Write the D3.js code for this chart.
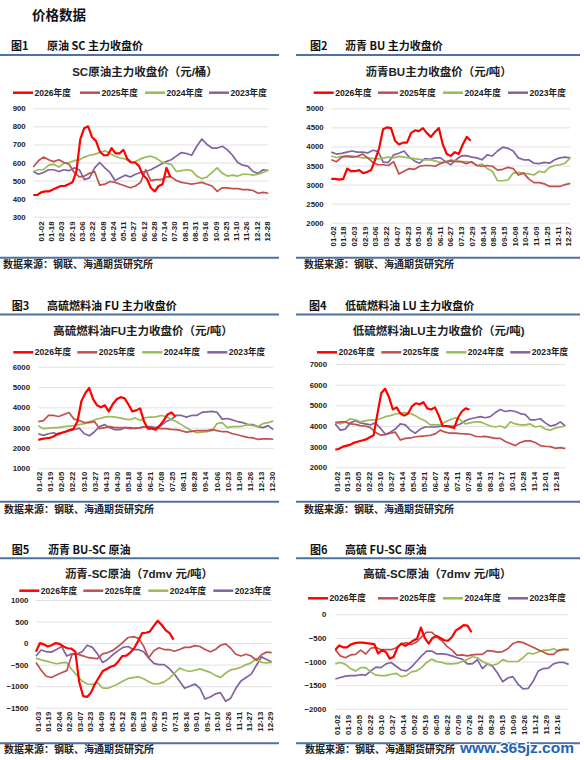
<!DOCTYPE html>
<html><head><meta charset="utf-8">
<script src="https://cdn.jsdelivr.net/npm/d3@7"></script>
<style>
body{margin:0;background:#fff}
svg{display:block}
.hd{font-family:"Noto Sans CJK SC",sans-serif;font-weight:700;font-size:11px;fill:#111}
.ttl{font-family:"Liberation Sans","Noto Sans CJK SC",sans-serif;font-weight:700;font-size:11.5px;fill:#222}
.lg{font-family:"Liberation Sans","Noto Sans CJK SC",sans-serif;font-weight:700;font-size:8.6px;fill:#222}
.tk text{font-family:"Liberation Sans",sans-serif;font-weight:700;font-size:7.8px;fill:#222}
.src{font-family:"Noto Sans CJK SC",sans-serif;font-weight:700;font-size:10px;fill:#222}
</style>
</head><body><svg id="c" width="584" height="760"></svg>
<script>
const seriesNames = ["2026年度","2025年度","2024年度","2023年度"];
const seriesColors = ["#FF0000","#C0504D","#9BBB59","#8064A2"];
const RED_STEP = 1/60;

// ---- Panel 1: SC crude ----
const scTicks = ["01-02","01-18","02-03","02-19","03-06","03-22","04-08","04-24","05-11","05-27","06-12","06-28","07-14","07-30","08-15","08-31","09-16","10-09","10-25","11-10","11-26","12-12","12-28"];
const sc2026 = [420,420,435,440,440,450,460,470,470,480,490,550,730,790,800,740,720,660,640,640,680,650,650,670,620,600,600,580,530,510,460,440,470,480,570,520];
const sc2025 = [575,610,630,615,605,615,600,590,545,520,525,540,550,475,480,495,490,480,470,460,470,490,560,500,505,505,520,520,500,490,485,480,485,490,480,470,440,460,460,455,455,450,450,445,430,435,430];
const sc2024 = [550,560,560,585,590,575,595,600,610,615,630,640,645,655,665,650,635,625,620,600,605,620,630,635,625,605,595,590,550,555,560,555,525,510,520,545,570,540,525,530,525,535,535,530,535,545,560];
const sc2023 = [550,535,545,560,560,550,560,555,570,560,505,515,570,600,570,545,500,515,530,520,535,545,550,560,575,590,605,615,635,655,650,640,690,730,700,680,680,690,670,640,600,585,580,550,540,560,555];

// ---- Panel 2: BU asphalt ----
const buTicks = ["01-02","01-18","02-03","02-19","03-06","03-22","04-07","04-23","05-10","05-26","06-11","06-27","07-13","07-29","08-14","08-30","09-15","10-08","10-24","11-09","11-25","12-11","12-27"];
const bu2026 = [3150,3150,3130,3150,3420,3350,3350,3380,3300,3330,3380,3650,3950,4450,4500,4480,4150,4050,4100,4100,4350,4420,4400,4480,4350,4250,4380,4480,4050,3800,3750,3850,3800,4050,4250,4150];
const bu2025 = [3650,3600,3720,3740,3720,3740,3800,3700,3580,3520,3520,3500,3600,3280,3350,3420,3400,3480,3500,3500,3480,3550,3600,3620,3600,3600,3550,3600,3500,3480,3500,3480,3380,3400,3450,3420,3250,3300,3150,3050,3050,3020,2950,2950,2950,3000,3030];
const bu2024 = [3750,3710,3740,3750,3750,3730,3700,3700,3680,3670,3700,3720,3700,3740,3720,3700,3680,3660,3650,3650,3620,3580,3580,3650,3620,3600,3600,3580,3500,3540,3420,3350,3100,3100,3120,3300,3320,3300,3280,3250,3350,3320,3450,3500,3520,3560,3700];
const bu2023 = [3850,3800,3820,3850,3880,3850,3850,3830,3900,3870,3580,3580,3780,3820,3880,3720,3620,3560,3680,3660,3700,3700,3600,3520,3650,3750,3760,3720,3700,3650,3780,3750,3880,3980,3950,3880,3700,3650,3650,3560,3550,3580,3560,3650,3700,3720,3700];

// ---- Panel 3: FU high sulphur fuel oil ----
const fuTicks = ["01-02","01-19","02-05","02-22","03-10","03-27","04-13","04-30","05-18","06-04","06-21","07-08","07-25","08-11","08-28","09-14","10-06","10-23","11-09","11-26","12-13","12-30"];
const fu2026 = [2400,2450,2480,2500,2580,2700,2750,2800,2880,2950,3300,4300,4700,4950,4400,4100,4000,4100,3800,4150,4400,4500,4450,4150,3800,3850,3950,3300,2950,2950,2900,3100,3350,3650,3750,3550];
const fu2025 = [3300,3350,3600,3600,3550,3650,3750,3420,3350,3250,3250,3300,2950,3000,3050,3000,3000,3000,2950,2980,3000,3050,3000,2980,2950,2950,2920,2900,2850,2780,2820,2850,2850,2850,2900,2850,2800,2800,2700,2650,2580,2520,2500,2420,2450,2450,2430];
const fu2024 = [3100,2950,2980,3000,3000,3050,3080,3100,3150,3200,3300,3380,3450,3520,3550,3520,3480,3420,3400,3480,3350,3500,3520,3530,3600,3550,3400,3300,3150,3000,2850,2750,2780,2800,2850,3200,3250,3000,3050,3050,3080,3150,3100,3050,3200,3250,3330];
const fu2023 = [2700,2620,2700,2750,2650,2800,2850,2900,2980,2700,2600,2800,3050,3150,3000,2900,2900,3000,3000,2950,3000,3050,3050,3000,3100,3300,3400,3600,3600,3520,3600,3600,3750,3780,3800,3750,3420,3450,3380,3300,3250,3150,3150,3050,3000,3100,2900];

// ---- Panel 4: LU low sulphur fuel oil ----
const luTicks = ["01-02","01-19","02-05","02-22","03-10","03-27","04-14","05-04","05-21","06-07","06-24","07-11","07-28","08-14","08-31","09-17","10-11","10-28","11-14","12-01","12-18"];
const lu2026 = [2850,2900,3000,3050,3100,3200,3250,3300,3350,3450,3550,4600,5600,5800,5400,4800,4900,4600,4500,4600,4950,5100,5050,5150,4850,4800,4900,4500,4000,4000,3950,3900,4400,4700,4850,4800];
const lu2025 = [4150,4200,4200,4100,4080,4020,4000,3920,3700,3560,3580,3650,3700,3320,3400,3420,3480,3500,3520,3550,3620,3800,3700,3650,3650,3630,3620,3600,3500,3480,3500,3450,3400,3400,3250,3150,3050,3200,3280,3280,3200,3050,3020,3000,2920,2950,2900];
const lu2024 = [4200,4100,4200,4350,4300,4200,4250,4300,4300,4350,4450,4500,4580,4620,4650,4600,4500,4350,4250,4050,4050,4050,4200,4300,4400,4300,4100,4150,4200,4200,4100,4000,3950,4000,3900,4200,4100,4050,4050,4100,3950,4000,3850,3800,3900,3950,4000];
const lu2023 = [4100,3800,3850,4150,4250,4150,4100,4050,4150,3900,3600,3700,3850,4100,4050,3800,3650,3850,3950,3950,3950,3980,4000,4000,4000,4100,4250,4350,4400,4450,4400,4450,4650,4800,4700,4750,4700,4600,4550,4300,4300,4350,4150,4000,4050,4200,4000];

// ---- Panel 5: BU - SC spread ----
const bsTicks = ["01-03","01-19","02-04","02-20","03-07","03-23","04-09","04-25","05-12","05-28","06-13","06-29","07-15","07-31","08-16","09-01","09-17","10-10","10-26","11-11","11-27","12-13","12-29"];
const bs2026 = [-200,0,-30,-80,-50,0,-20,-80,-120,-130,-200,-900,-1230,-1250,-1150,-950,-800,-650,-600,-550,-520,-420,-300,-290,-220,-120,50,230,240,270,400,520,420,300,230,80];
const bs2025 = [-450,-630,-770,-800,-740,-690,-640,-270,-250,-290,-330,-350,-360,-250,-220,-170,-80,20,130,150,110,-70,-340,-180,-110,-150,-150,-190,-150,-100,-100,-60,-80,-150,-200,-150,-50,-20,-120,-260,-300,-260,-300,-400,-270,-210,-220];
const bs2024 = [-350,-390,-420,-450,-480,-460,-450,-620,-750,-880,-950,-960,-920,-1040,-1050,-1000,-950,-880,-820,-800,-780,-830,-900,-950,-940,-900,-820,-700,-580,-630,-660,-630,-600,-640,-680,-750,-800,-700,-620,-600,-560,-500,-460,-360,-450,-460,-450];
const bs2023 = [-300,-160,-200,-210,-150,-80,-300,-250,-250,-200,-50,-100,-250,-450,-380,-270,-180,-100,-80,-150,-150,-200,-350,-470,-500,-500,-590,-720,-880,-1050,-1000,-950,-1050,-1300,-1250,-1180,-1150,-1350,-1280,-1050,-880,-800,-720,-520,-320,-380,-440];

// ---- Panel 6: FU - SC spread ----
const fsTicks = ["01-02","01-19","02-05","02-22","03-10","03-27","04-14","05-02","05-19","06-05","06-22","07-09","07-26","08-12","08-29","09-15","10-09","10-26","11-12","11-29","12-16"];
const fs2026 = [-750,-660,-700,-700,-640,-610,-600,-600,-610,-620,-630,-830,-760,-800,-940,-900,-700,-620,-670,-620,-560,-520,-280,-500,-620,-500,-460,-500,-550,-560,-480,-340,-290,-230,-240,-380];
const fs2025 = [-750,-880,-920,-860,-850,-760,-840,-720,-700,-750,-750,-750,-710,-630,-600,-640,-590,-480,-380,-380,-480,-560,-680,-760,-870,-860,-880,-860,-850,-850,-770,-780,-800,-790,-730,-620,-580,-600,-650,-700,-750,-800,-850,-850,-760,-740,-750];
const fs2024 = [-1050,-1020,-1060,-1150,-1200,-1130,-1130,-1220,-1290,-1300,-1300,-1270,-1250,-1320,-1300,-1220,-1200,-1130,-1020,-950,-1000,-1020,-1050,-1050,-1040,-1000,-960,-900,-920,-1000,-1050,-1080,-1050,-960,-1000,-1000,-1000,-920,-820,-840,-800,-760,-760,-730,-780,-750,-750];
const fs2023 = [-1370,-1340,-1310,-1300,-1300,-1280,-1290,-1200,-1120,-1130,-1050,-1020,-1100,-1180,-1200,-1120,-1000,-880,-780,-780,-840,-840,-850,-880,-920,-950,-1050,-1050,-960,-1150,-1050,-1100,-1250,-1430,-1350,-1320,-1480,-1580,-1570,-1420,-1200,-1150,-1140,-1050,-1020,-1020,-1060];

const svg = d3.select("#c");
svg.append("rect").attr("width",584).attr("height",760).attr("fill","#fff");

svg.append("text").attr("x",32).attr("y",20)
  .style("font-family","'Noto Sans CJK SC',sans-serif").style("font-weight",700).style("font-size","13.5px").attr("fill","#111")
  .text("价格数据");

const panels = [
 {fig:"图1",name:"原油 SC 主力收盘价",title:"SC原油主力收盘价（元/桶）",ticks:scTicks,data:[sc2026,sc2025,sc2024,sc2023],yDom:[300,900],yStep:100,
  figX:11,nameX:47,headY:50,lineY:55,lx0:0,lx1:279,titleX:145,titleY:75.5,legY:92.7,legX:[13,80,145,209],
  l:33.3,r:268.3,yt:108.3,yb:216.7,yLabX:25.7,tx0:40.7,tx1:266.7,xLabY:221.5,botY:257.7,srcX:3,srcY:268},
 {fig:"图2",name:"沥青 BU 主力收盘价",title:"沥青BU主力收盘价（元/吨）",ticks:buTicks,data:[bu2026,bu2025,bu2024,bu2023],yDom:[2000,5000],yStep:500,
  figX:310,nameX:345,headY:50,lineY:55,lx0:296,lx1:580,titleX:438.7,titleY:75.5,legY:92.7,legX:[313.7,378,443,508],
  l:331.3,r:570.3,yt:108.3,yb:222.7,yLabX:323.7,tx0:332.3,tx1:568,xLabY:226.5,botY:257.7,srcX:304,srcY:268},
 {fig:"图3",name:"高硫燃料油 FU 主力收盘价",title:"高硫燃料油FU主力收盘价（元/吨）",ticks:fuTicks,data:[fu2026,fu2025,fu2024,fu2023],yDom:[1000,6000],yStep:1000,
  figX:11.7,nameX:47,headY:310,lineY:314.5,lx0:0,lx1:279,titleX:143,titleY:335,legY:352.3,legX:[13.3,77.3,142.3,207.3],
  l:38.3,r:273.3,yt:366.7,yb:468.3,yLabX:30,tx0:39,tx1:271.7,xLabY:471.7,botY:501.7,srcX:4,srcY:512.5},
 {fig:"图4",name:"低硫燃料油 LU 主力收盘价",title:"低硫燃料油LU主力收盘价（元/吨)",ticks:luTicks,data:[lu2026,lu2025,lu2024,lu2023],yDom:[2000,7000],yStep:1000,
  figX:309,nameX:345,headY:310,lineY:314.5,lx0:296,lx1:580,titleX:438.7,titleY:335,legY:352.3,legX:[317,381.3,446.3,510.3],
  l:335.3,r:565.3,yt:364,yb:467.3,yLabX:327,tx0:336.3,tx1:555.3,xLabY:471.7,botY:501.7,srcX:304,srcY:512.5},
 {fig:"图5",name:"沥青 BU-SC 原油",title:"沥青-SC原油（7dmv 元/吨）",ticks:bsTicks,data:[bs2026,bs2025,bs2024,bs2023],yDom:[-1500,1000],yStep:500,
  figX:11.7,nameX:48,headY:554,lineY:558.3,lx0:0,lx1:279,titleX:139,titleY:578,legY:590.7,legX:[19.3,83.3,148.3,213.3],
  l:36,r:271.7,yt:600,yb:707.7,yLabX:28.3,tx0:37.3,tx1:270,xLabY:711.7,botY:743.3,srcX:4,srcY:753},
 {fig:"图6",name:"高硫 FU-SC 原油",title:"高硫-SC原油（7dmv 元/吨）",ticks:fsTicks,data:[fs2026,fs2025,fs2024,fs2023],yDom:[-2000,0],yStep:500,
  figX:310,nameX:345,headY:554,lineY:558.3,lx0:296,lx1:580,titleX:437.3,titleY:578,legY:598.3,legX:[308,378,443,508],
  l:335.3,r:568.7,yt:614.3,yb:708.7,yLabX:326.3,tx0:336.3,tx1:557,xLabY:715,botY:743.3,srcX:305,srcY:753}
];

function drawPanel(p){
  const g = svg.append("g");
  g.append("text").attr("class","hd").attr("x",p.figX).attr("y",p.headY).text(p.fig);
  g.append("text").attr("class","hd").attr("x",p.nameX).attr("y",p.headY).text(p.name);
  g.append("line").attr("x1",p.lx0).attr("x2",p.lx1).attr("y1",p.lineY).attr("y2",p.lineY)
    .attr("stroke","#4F71A0").attr("stroke-width",2);
  g.append("line").attr("x1",p.lx0).attr("x2",p.lx1).attr("y1",p.botY).attr("y2",p.botY)
    .attr("stroke","#4F71A0").attr("stroke-width",2);
  g.append("text").attr("class","src").attr("x",p.srcX).attr("y",p.srcY).text("数据来源：钢联、海通期货研究所");

  g.append("text").attr("class","ttl").attr("x",p.titleX).attr("y",p.titleY).attr("text-anchor","middle").text(p.title);

  // legend
  seriesNames.forEach((nm,i)=>{
    const lx = p.legX[i];
    g.append("line").attr("x1",lx).attr("x2",lx+20).attr("y1",p.legY).attr("y2",p.legY)
      .attr("stroke",seriesColors[i]).attr("stroke-width",2.5);
    g.append("text").attr("class","lg").attr("x",lx+21.5).attr("y",p.legY).attr("dy","0.35em").text(nm);
  });

  const x = d3.scaleLinear().domain([0,1]).range([p.l,p.r]);
  const y = d3.scaleLinear().domain(p.yDom).range([p.yb,p.yt]);
  const xt = d3.scalePoint().domain(p.ticks).range([p.tx0,p.tx1]);

  const yAxis = d3.axisLeft(y).tickValues(d3.range(p.yDom[0],p.yDom[1]+1,p.yStep))
    .tickSize(-(p.r-p.l)).tickPadding(p.l-p.yLabX).tickFormat(d3.format("d"));
  const ya = g.append("g").attr("class","tk").attr("transform",`translate(${p.l},0)`).call(yAxis);
  ya.select(".domain").remove();
  ya.selectAll(".tick line").attr("stroke","#d9d9d9").attr("stroke-width",0.8);
  ya.selectAll(".tick text").attr("fill","#222");

  const xAxis = d3.axisBottom(xt).tickSize(0);
  const xa = g.append("g").attr("class","tk").attr("transform",`translate(0,${p.xLabY})`).call(xAxis);
  xa.select(".domain").remove();
  xa.selectAll(".tick text").attr("transform","rotate(-90)").attr("x",0).attr("y",0)
    .attr("dy","0.35em").style("text-anchor","end").attr("fill","#222");

  const clip = "clip"+p.fig;
  g.append("clipPath").attr("id",clip).append("rect")
    .attr("x",p.l-2).attr("y",p.yt-4).attr("width",p.r-p.l+4).attr("height",p.yb-p.yt+6);

  const lines = g.append("g").attr("clip-path",`url(#${clip})`);
  // draw older years first, current year on top
  [3,2,1,0].forEach(k=>{
    const arr = p.data[k];
    const step = k===0 ? RED_STEP : 1/(arr.length-1);
    const gen = d3.line().x((d,i)=>x(i*step)).y(d=>y(d)).curve(d3.curveLinear);
    lines.append("path").datum(arr).attr("d",gen).attr("fill","none")
      .attr("stroke",seriesColors[k]).attr("stroke-width",k===0?2.2:1.7)
      .attr("stroke-linejoin","round");
  });
}

panels.forEach(drawPanel);

svg.append("text").attr("x",460).attr("y",753)
  .style("font-family","'Liberation Sans',sans-serif").style("font-weight",700).style("font-size","15.5px")
  .attr("fill","#1f63b8").attr("stroke","#fff").attr("stroke-width",2).style("paint-order","stroke")
  .text("www.365jz.com");
</script>
</body></html>
